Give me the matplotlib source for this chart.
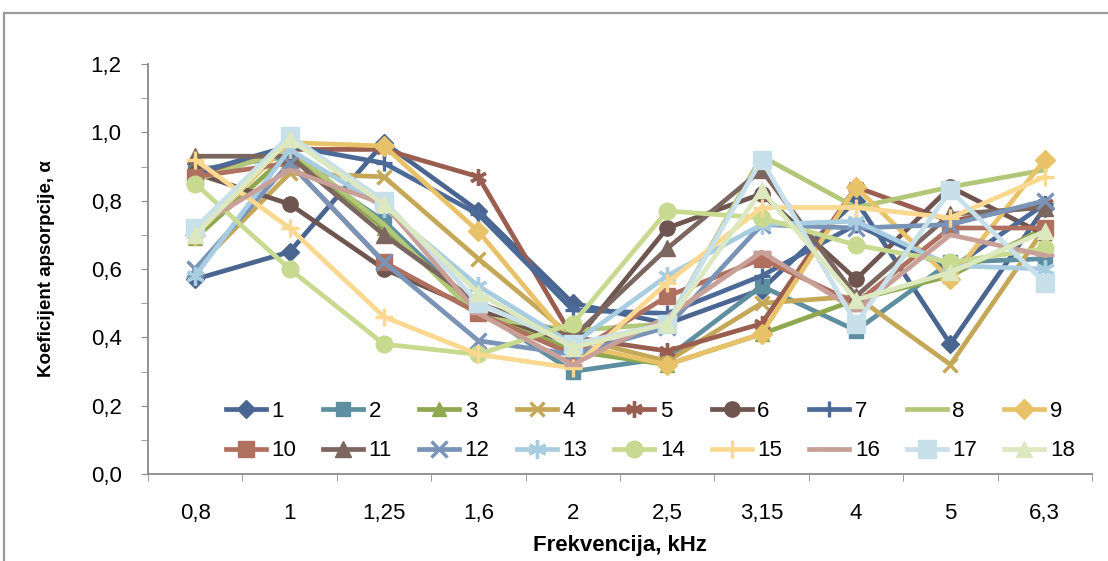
import matplotlib
matplotlib.use("Agg")
import matplotlib.pyplot as plt
from matplotlib.patches import Rectangle
from matplotlib.ticker import MultipleLocator, FixedLocator, NullFormatter

plt.rcParams['font.family'] = ['Liberation Sans', 'DejaVu Sans']

freq_labels = ["0,8", "1", "1,25", "1,6", "2", "2,5", "3,15", "4", "5", "6,3"]

s1 = [0.57, 0.65, 0.97, 0.77, 0.50, 0.44, 0.54, 0.80, 0.38, 0.78]
s2 = [0.89, 0.93, 0.74, 0.48, 0.30, 0.34, 0.55, 0.42, 0.62, 0.63]
s3 = [0.69, 0.94, 0.72, 0.48, 0.36, 0.32, 0.41, 0.51, 0.58, 0.72]
s4 = [0.60, 0.88, 0.87, 0.63, 0.40, 0.33, 0.50, 0.52, 0.32, 0.72]
s5 = [0.87, 0.95, 0.95, 0.87, 0.40, 0.36, 0.44, 0.84, 0.74, 0.79]
s6 = [0.88, 0.79, 0.60, 0.48, 0.38, 0.72, 0.82, 0.57, 0.84, 0.70]
s7 = [0.88, 0.96, 0.91, 0.76, 0.48, 0.47, 0.58, 0.73, 0.60, 0.79]
s8 = [0.86, 0.95, 0.73, 0.46, 0.42, 0.44, 0.93, 0.78, 0.84, 0.89]
s9 = [0.70, 0.97, 0.96, 0.71, 0.38, 0.32, 0.41, 0.84, 0.57, 0.92]
s10 = [0.87, 0.91, 0.62, 0.47, 0.35, 0.52, 0.63, 0.50, 0.72, 0.72]
s11 = [0.93, 0.93, 0.70, 0.50, 0.40, 0.66, 0.89, 0.52, 0.76, 0.78]
s12 = [0.60, 0.91, 0.62, 0.39, 0.35, 0.43, 0.73, 0.72, 0.73, 0.80]
s13 = [0.58, 0.95, 0.78, 0.55, 0.38, 0.58, 0.73, 0.74, 0.61, 0.60]
s14 = [0.85, 0.60, 0.38, 0.35, 0.44, 0.77, 0.75, 0.67, 0.62, 0.66]
s15 = [0.92, 0.72, 0.46, 0.35, 0.31, 0.56, 0.78, 0.78, 0.75, 0.87]
s16 = [0.72, 0.89, 0.79, 0.47, 0.32, 0.46, 0.65, 0.48, 0.70, 0.64]
s17 = [0.72, 0.99, 0.80, 0.50, 0.38, 0.44, 0.92, 0.44, 0.83, 0.56]
s18 = [0.70, 0.98, 0.79, 0.53, 0.37, 0.44, 0.83, 0.51, 0.59, 0.71]

series_names = [str(i) for i in range(1, 19)]
series_values = [s1, s2, s3, s4, s5, s6, s7, s8, s9, s10,
                 s11, s12, s13, s14, s15, s16, s17, s18]

asterisk = (6, 2, 0)
styles = [
    ("#4A6690", "D", 9),
    ("#5E8FA0", "s", 10),
    ("#8FA850", "^", 10),
    ("#C4A858", "x", 10),
    ("#9A5E50", asterisk, 12),
    ("#6E5550", "o", 11),
    ("#4C6A98", "+", 12),
    ("#B2C878", None, 0),
    ("#E8C268", "D", 10),
    ("#B07060", "s", 11),
    ("#7C6660", "^", 11),
    ("#7A94B8", "x", 11),
    ("#A8CCE0", asterisk, 13),
    ("#C8DA90", "o", 12),
    ("#FAD890", "+", 13),
    ("#C8A098", "_", 13),
    ("#C8E0EA", "s", 13),
    ("#DCE8C0", "^", 12),
]

fig = plt.figure(figsize=(11.08, 5.61), dpi=100)
fig.patches.append(Rectangle((4 / 1108, -0.1), 1.2, 1 - 13 / 561 + 0.1,
                             transform=fig.transFigure, fill=False,
                             edgecolor="#9a9a9a", linewidth=1.6, zorder=0))

ax = fig.add_axes([148 / 1108, 1 - 474 / 561, 944 / 1108, 410 / 561])
x = list(range(len(freq_labels)))

handles = []
for name, vals, (col, mk, ms) in zip(series_names, series_values, styles):
    mew = 2.4 if mk in ("x", "+", "_", asterisk) else 1.0
    h, = ax.plot(x, vals, color=col, linewidth=3.4, marker=mk, markersize=ms,
                 markerfacecolor=col, markeredgecolor=col, markeredgewidth=mew,
                 label=name, solid_joinstyle="round")
    handles.append(h)

ax.set_xlim(-0.5, len(freq_labels) - 0.5)
ax.set_ylim(0, 1.2)
ax.set_xticks(x)
ax.set_xticklabels(freq_labels)
ax.xaxis.set_minor_locator(FixedLocator([i + 0.5 for i in range(-1, len(x))]))
ax.xaxis.set_minor_formatter(NullFormatter())
ax.tick_params(axis="x", which="major", length=0, pad=21, labelsize=16)
ax.tick_params(axis="x", which="minor", length=5, color="#8a8a8a", direction="out")

ax.yaxis.set_major_locator(MultipleLocator(0.2))
ax.yaxis.set_minor_locator(MultipleLocator(0.1))
ax.set_yticklabels([f"{v:.1f}".replace(".", ",") for v in ax.get_yticks()])
ax.tick_params(axis="y", which="both", length=5, color="#8a8a8a",
               direction="out", labelsize=16, pad=14)

for side in ("top", "right"):
    ax.spines[side].set_visible(False)
for side in ("left", "bottom"):
    ax.spines[side].set_color("#8a8a8a")
    ax.spines[side].set_linewidth(1.3)

ax.set_xlabel("Frekvencija, kHz", fontsize=16, fontweight="bold")
ax.xaxis.set_label_coords(0.5, -0.148)
ax.set_ylabel("Koeficijent apsorpcije, α", fontsize=13.5, fontweight="bold")
ax.yaxis.set_label_coords(-0.099, 0.5)

# nine columns; reorder so rows read 1..9 and 10..18
order = []
for j in range(9):
    order += [j, j + 9]
leg = ax.legend([handles[i] for i in order], [series_names[i] for i in order],
                ncol=9, loc="center", bbox_to_anchor=(0.532, 0.105),
                frameon=False, fontsize=16, handlelength=1.8, handletextpad=0.25,
                columnspacing=1.22, labelspacing=0.85, borderpad=0.2)

fig.savefig("out.png", dpi=100, facecolor="white")
